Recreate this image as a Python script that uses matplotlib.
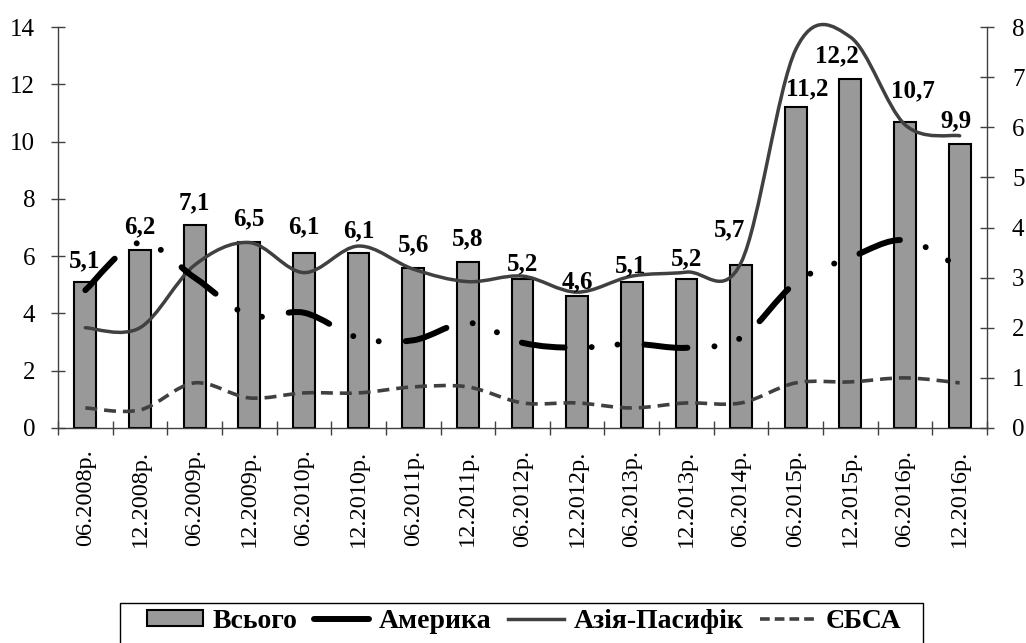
import numpy as np
import matplotlib.pyplot as plt
from matplotlib.path import Path
from matplotlib.patches import PathPatch, Patch, Rectangle
from matplotlib.lines import Line2D

plt.rcParams['font.family'] = ['Liberation Serif', 'DejaVu Serif']
plt.rcParams['lines.scale_dashes'] = False

# half-year periods
periods = ['06.2008р.', '12.2008р.', '06.2009р.', '12.2009р.', '06.2010р.',
           '12.2010р.', '06.2011р.', '12.2011р.', '06.2012р.', '12.2012р.',
           '06.2013р.', '12.2013р.', '06.2014р.', '06.2015р.', '12.2015р.',
           '06.2016р.', '12.2016р.']

# total (left axis, bars)
total = [5.1, 6.2, 7.1, 6.5, 6.1, 6.1, 5.6, 5.8, 5.2, 4.6, 5.1, 5.2, 5.7,
         11.2, 12.2, 10.7, 9.9]

# regions (right axis, smoothed lines)
america = [2.75, 3.7, 3.0, 2.25, 2.3, 1.8, 1.75, 2.1, 1.7, 1.6, 1.68, 1.6,
           1.8, 2.9, 3.4, 3.75, 3.2]
asia_pacific = [2.0, 2.0, 3.25, 3.7, 3.1, 3.63, 3.17, 2.92, 3.03, 2.71, 3.03,
                3.11, 3.3, 7.55, 7.8, 6.05, 5.83]
ebsa = [0.4, 0.36, 0.9, 0.6, 0.7, 0.7, 0.82, 0.82, 0.5, 0.5, 0.4, 0.5, 0.5,
        0.9, 0.92, 1.0, 0.9]

series_names = ['Всього', 'Америка', 'Азія-Пасифік', 'ЄБСА']

# label nudges in pixels (dx, dy above bar top)
label_shift = [(-1, 15), (0, 17), (0, 15), (0, 17), (0, 20), (0, 16), (0, 16),
               (0, 17), (0, 9), (0, 8), (-1, 10), (0, 14), (-12, 28),
               (12, 12), (-13, 16), (8, 24), (-4, 17)]


def smooth_path(values):
    # bezier segments through every point (catmull-rom style tangents)
    y = np.asarray(values, dtype=float)
    x = np.arange(len(y), dtype=float)
    n = len(y)
    verts = [(x[0], y[0])]
    codes = [Path.MOVETO]
    for i in range(n - 1):
        a = max(i - 1, 0)
        b = min(i + 2, n - 1)
        c1 = (x[i] + (x[i + 1] - x[a]) / 6, y[i] + (y[i + 1] - y[a]) / 6)
        c2 = (x[i + 1] - (x[b] - x[i]) / 6, y[i + 1] - (y[b] - y[i]) / 6)
        verts += [c1, c2, (x[i + 1], y[i + 1])]
        codes += [Path.CURVE4] * 3
    return Path(verts, codes)


fig = plt.figure(figsize=(10.26, 6.43), dpi=100)
ax = fig.add_axes([58 / 1026, 1 - 428 / 643, (987 - 58) / 1026, (428 - 27) / 643])
ax2 = ax.twinx()

x = np.arange(len(periods))
ax.bar(x, total, width=0.4, color='#999999', edgecolor='black', linewidth=1.5, zorder=2)

axis_col = '#404040'
ax2.add_patch(PathPatch(smooth_path(ebsa), fill=False, edgecolor=axis_col, lw=2.6,
                        linestyle=(0, (8.6, 5.0)), capstyle='butt'))
ax2.add_patch(PathPatch(smooth_path(asia_pacific), fill=False, edgecolor=axis_col,
                        lw=2.5, capstyle='round', joinstyle='round', clip_on=False))
ax2.add_patch(PathPatch(smooth_path(america), fill=False, edgecolor='black', lw=4.3,
                        linestyle=(0, (31.0, 19.5, 0.01, 18.7, 0.01, 19.5)),
                        capstyle='round', joinstyle='round'))

for i, v in enumerate(total):
    dx, dy = label_shift[i]
    ax2.annotate(f'{v:.1f}'.replace('.', ','), xy=(i, v), xycoords=ax.transData,
                 xytext=(dx, dy), textcoords='offset pixels', ha='center',
                 va='baseline', fontsize=18, fontweight='bold')

ax.set_xlim(-0.5, len(periods) - 0.5)
ax.set_ylim(0, 14)
ax2.set_ylim(0, 8)
ax.set_yticks(range(0, 15, 2))
ax2.set_yticks(range(0, 9))

ax.set_xticks(x)
ax.set_xticklabels(periods, rotation=90, fontsize=17.5)
ax.set_xticks(np.arange(-0.5, len(periods), 1), minor=True)
ax.tick_params(axis='x', which='major', length=0, pad=15.5)
ax.tick_params(axis='x', which='minor', direction='inout', length=10, width=1, color=axis_col)
ax.tick_params(axis='y', direction='inout', length=10, width=1, color=axis_col,
               labelsize=18, pad=11.5)
ax2.tick_params(axis='y', direction='inout', length=10, width=1, color=axis_col,
                labelsize=18, pad=13)

for s in ['top', 'right']:
    ax.spines[s].set_visible(False)
for s in ['top', 'left', 'bottom']:
    ax2.spines[s].set_visible(False)
for a in (ax, ax2):
    for s in a.spines.values():
        s.set_color(axis_col)
        s.set_linewidth(1)

handles = [
    Patch(facecolor='#999999', edgecolor='black', linewidth=1.5),
    Line2D([], [], color='black', lw=4.3, solid_capstyle='round'),
    Line2D([], [], color=axis_col, lw=2.5),
    Line2D([], [], color=axis_col, lw=2.6, linestyle=(0, (7.0, 3.6))),
]
fig.legend(handles, series_names, loc='upper left', ncol=4, frameon=False,
           bbox_to_anchor=(147 / 1026, 1 - 609 / 643), borderpad=0, borderaxespad=0,
           handlelength=2.0, handleheight=0.5, handletextpad=0.35, columnspacing=0.6,
           prop={'size': 20, 'weight': 'bold'})
fig.add_artist(Rectangle((120 / 1026, -0.05), (923 - 120) / 1026, 0.05 + 1 - 603 / 643,
                         transform=fig.transFigure, fill=False, edgecolor='black', lw=1))

fig.savefig('out.png', dpi=100)
